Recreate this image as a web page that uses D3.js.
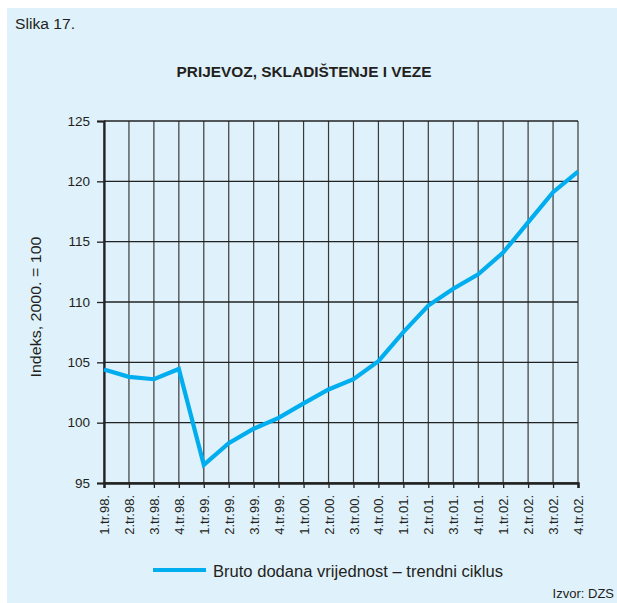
<!DOCTYPE html>
<html><head><meta charset="utf-8">
<script src="https://cdn.jsdelivr.net/npm/d3@7"></script>
<style>body{margin:0;background:#fff}svg{display:block}text{font-family:"Liberation Sans",Arial,sans-serif;fill:#231f20}</style>
</head><body>
<script>
const categories = ["1.tr.98.","2.tr.98.","3.tr.98.","4.tr.98.","1.tr.99.","2.tr.99.","3.tr.99.","4.tr.99.","1.tr.00.","2.tr.00.","3.tr.00.","4.tr.00.","1.tr.01.","2.tr.01.","3.tr.01.","4.tr.01.","1.tr.02.","2.tr.02.","3.tr.02.","4.tr.02."];
const values = [104.4,103.8,103.6,104.45,96.5,98.3,99.5,100.4,101.6,102.75,103.6,105.1,107.5,109.7,111.1,112.3,114.1,116.6,119.1,120.8];
const yTicks = [95,100,105,110,115,120,125];
const seriesName = "Bruto dodana vrijednost – trendni ciklus";

const W = 617, H = 603;
const svg = d3.select("body").append("svg").attr("width", W).attr("height", H);
svg.append("rect").attr("x",7).attr("y",8).attr("width",W-7).attr("height",H-8).attr("fill","#dff1fb");

const m = {left:104, right:578, top:121, bottom:483};
const x = d3.scalePoint().domain(categories).range([m.left, m.right]);
const y = d3.scaleLinear().domain([95,125]).range([m.bottom, m.top]);

svg.append("text").attr("x",15).attr("y",29).attr("font-size",15.5).attr("textLength",60).attr("lengthAdjust","spacingAndGlyphs").text("Slika 17.");
svg.append("text").attr("x",304).attr("y",77).attr("text-anchor","middle").attr("font-size",15.5).attr("font-weight","bold")
  .attr("textLength",255).attr("lengthAdjust","spacingAndGlyphs").text("PRIJEVOZ, SKLADIŠTENJE I VEZE");

// grid
svg.append("g").selectAll("line").data(categories).join("line")
  .attr("x1",d=>x(d)).attr("x2",d=>x(d)).attr("y1",m.top).attr("y2",m.bottom)
  .attr("stroke","#3a3a3a").attr("stroke-width",1.2);
svg.append("g").selectAll("line").data(yTicks).join("line")
  .attr("x1",m.left).attr("x2",m.right).attr("y1",d=>y(d)).attr("y2",d=>y(d))
  .attr("stroke","#222").attr("stroke-width",1.3);

// axes
const yAxis = svg.append("g").attr("transform",`translate(${m.left},0)`)
  .call(d3.axisLeft(y).tickValues(yTicks).tickSize(7).tickPadding(7));
yAxis.select(".domain").attr("stroke","#222").attr("stroke-width",2.2);
yAxis.selectAll(".tick line").attr("stroke","#222").attr("stroke-width",1.3);
yAxis.selectAll(".tick text").attr("font-size",13.5).attr("fill","#231f20").attr("font-family","Liberation Sans, Arial, sans-serif");

const xAxis = svg.append("g").attr("transform",`translate(0,${m.bottom})`)
  .call(d3.axisBottom(x).tickSize(5).tickPadding(6));
xAxis.select(".domain").attr("stroke","#222").attr("stroke-width",2.5);
xAxis.selectAll(".tick line").attr("stroke","#222").attr("stroke-width",1.3);
xAxis.selectAll(".tick text").attr("font-size",13).attr("fill","#231f20").attr("font-family","Liberation Sans, Arial, sans-serif")
  .attr("transform","rotate(-90)").attr("text-anchor","end").attr("dy","0.35em").attr("x",-12).attr("y",0);

svg.append("text").attr("transform",`translate(41,${307}) rotate(-90)`).attr("text-anchor","middle")
  .attr("font-size",15.5).attr("textLength",141).attr("lengthAdjust","spacingAndGlyphs").text("Indeks, 2000. = 100");

// line
const line = d3.line().x((d,i)=>x(categories[i])).y(d=>y(d));
svg.append("path").datum(values).attr("d",line).attr("fill","none").attr("stroke","#00aeef").attr("stroke-width",4.2).attr("stroke-linejoin","miter");

// legend
svg.append("line").attr("x1",153).attr("x2",206).attr("y1",570).attr("y2",570).attr("stroke","#00aeef").attr("stroke-width",4);
svg.append("text").attr("x",213).attr("y",577).attr("font-size",16).attr("textLength",290).attr("lengthAdjust","spacingAndGlyphs").text(seriesName);
svg.append("text").attr("x",614).attr("y",598).attr("text-anchor","end").attr("font-size",13).text("Izvor: DZS");
</script>
</body></html>
